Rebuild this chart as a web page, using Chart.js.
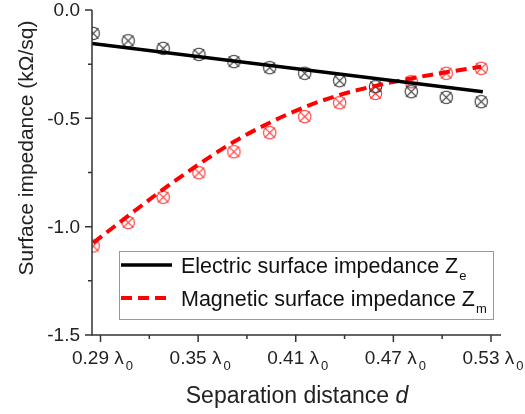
<!DOCTYPE html>
<html>
<head>
<meta charset="utf-8">
<script src="https://cdn.jsdelivr.net/npm/chart.js@4.4.1/dist/chart.umd.min.js"></script>
<style>
  html, body { margin: 0; padding: 0; background: #fff; }
</style>
</head>
<body>
<canvas id="chart" width="525" height="414"></canvas>
<script>
// separation distance d (in units of lambda0) of the measured points
const distance = [0.2855, 0.307, 0.3285, 0.3505, 0.372, 0.394, 0.4155, 0.437, 0.459, 0.481, 0.5025, 0.524]
// measured surface impedances (kOhm/sq)
const electricMeasured = [-0.108, -0.142, -0.177, -0.205, -0.238, -0.266, -0.292, -0.326, -0.354, -0.377, -0.403, -0.423]
const magneticMeasured = [-1.089, -0.981, -0.864, -0.751, -0.654, -0.566, -0.492, -0.428, -0.385, -0.331, -0.292, -0.269]
// fitted curves
const electricFitX = [0.2848, 0.525]
const electricFit = [-0.154, -0.377]
const magneticFit = [-1.075, -0.950, -0.828, -0.712, -0.608, -0.520, -0.448, -0.392, -0.350, -0.316, -0.287, -0.262]

const xMajorTicks = [0.29, 0.35, 0.41, 0.47, 0.53]
const xMinorTicks = [0.32, 0.38, 0.44, 0.50]
const xTickLabels = ['0.29', '0.35', '0.41', '0.47', '0.53']
const yMajorTicks = [0, -0.5, -1.0, -1.5]
const yMinorTicks = [-0.25, -0.75, -1.25]
const yTickLabels = ['0.0', '-0.5', '-1.0', '-1.5']

const legendLabels = ['Electric surface impedance Z', 'Magnetic surface impedance Z']
const legendSubs = ['e', 'm']

const FONT = '"Liberation Sans", Arial, sans-serif'

// circle with a cross inside, like the original markers
function makeMarker(color) {
  const c = document.createElement('canvas')
  c.width = 17
  c.height = 17
  const g = c.getContext('2d')
  g.strokeStyle = color
  g.lineWidth = 1.1
  g.beginPath()
  g.arc(8.5, 8.5, 6.2, 0, Math.PI * 2)
  g.stroke()
  const d = 5.2
  g.beginPath()
  g.moveTo(8.5 - d, 8.5 - d)
  g.lineTo(8.5 + d, 8.5 + d)
  g.moveTo(8.5 + d, 8.5 - d)
  g.lineTo(8.5 - d, 8.5 + d)
  g.stroke()
  return c
}

const axesPlugin = {
  id: 'axesPlugin',
  afterDraw(chart) {
    const ctx = chart.ctx
    const area = chart.chartArea
    const xs = chart.scales.x
    const ys = chart.scales.y
    ctx.save()
    ctx.strokeStyle = '#333'
    ctx.fillStyle = '#222'
    ctx.lineWidth = 1.5

    // axis lines
    ctx.beginPath()
    ctx.moveTo(area.left, area.top)
    ctx.lineTo(area.left, area.bottom)
    ctx.lineTo(area.right, area.bottom)
    ctx.stroke()

    // ticks
    ctx.beginPath()
    yMajorTicks.forEach(v => {
      const y = ys.getPixelForValue(v)
      ctx.moveTo(area.left, y)
      ctx.lineTo(area.left - 7, y)
    })
    yMinorTicks.forEach(v => {
      const y = ys.getPixelForValue(v)
      ctx.moveTo(area.left, y)
      ctx.lineTo(area.left - 4, y)
    })
    xMajorTicks.forEach(v => {
      const x = xs.getPixelForValue(v)
      ctx.moveTo(x, area.bottom)
      ctx.lineTo(x, area.bottom + 7)
    })
    xMinorTicks.forEach(v => {
      const x = xs.getPixelForValue(v)
      ctx.moveTo(x, area.bottom)
      ctx.lineTo(x, area.bottom + 4)
    })
    ctx.stroke()

    // y tick labels
    ctx.font = '19px ' + FONT
    ctx.textAlign = 'right'
    ctx.textBaseline = 'middle'
    yMajorTicks.forEach((v, i) => {
      ctx.fillText(yTickLabels[i], area.left - 12, ys.getPixelForValue(v) + 1)
    })

    // x tick labels with lambda_0
    ctx.textAlign = 'left'
    ctx.textBaseline = 'alphabetic'
    xMajorTicks.forEach((v, i) => {
      const x = xs.getPixelForValue(v)
      ctx.font = '19px ' + FONT
      const main = xTickLabels[i] + ' \u03bb'
      const w1 = ctx.measureText(main).width
      ctx.font = '13px ' + FONT
      const w2 = ctx.measureText('0').width
      let x0 = x + 2 - (w1 + w2 + 2) / 2
      ctx.font = '19px ' + FONT
      ctx.fillText(main, x0, 364)
      ctx.font = '13px ' + FONT
      ctx.fillText('0', x0 + w1 + 2, 370)
    })

    // axis titles
    ctx.font = '23px ' + FONT
    const t1 = 'Separation distance '
    const tw = ctx.measureText(t1).width
    ctx.font = 'italic 23px ' + FONT
    const dw = ctx.measureText('d').width
    const tx = 297 - (tw + dw) / 2
    ctx.font = '23px ' + FONT
    ctx.fillText(t1, tx, 403)
    ctx.font = 'italic 23px ' + FONT
    ctx.fillText('d', tx + tw, 403)

    ctx.save()
    ctx.translate(33, 148)
    ctx.rotate(-Math.PI / 2)
    ctx.font = '21px ' + FONT
    ctx.textAlign = 'center'
    ctx.fillText('Surface impedance (k\u03a9/sq)', 0, 0)
    ctx.restore()

    // legend
    ctx.lineWidth = 1
    ctx.strokeStyle = '#999'
    ctx.strokeRect(119.5, 251.5, 374, 68)
    const rows = [265, 298]
    chart.data.datasets.slice(0, 2).forEach((ds, i) => {
      ctx.save()
      ctx.strokeStyle = ds.borderColor
      ctx.lineWidth = ds.borderWidth
      ctx.setLineDash(ds.borderDash || [])
      ctx.beginPath()
      ctx.moveTo(121, rows[i])
      ctx.lineTo(172, rows[i])
      ctx.stroke()
      ctx.restore()
      ctx.fillStyle = '#111'
      ctx.textAlign = 'left'
      ctx.font = '21.5px ' + FONT
      ctx.fillText(legendLabels[i], 181, rows[i] + 8)
      const lw = ctx.measureText(legendLabels[i]).width
      ctx.font = '13px ' + FONT
      ctx.fillText(legendSubs[i], 181 + lw + 1, rows[i] + 15)
    })
    ctx.restore()
  }
}

new Chart(document.getElementById('chart'), {
  type: 'scatter',
  data: {
    datasets: [
      {
        label: 'Electric fit',
        data: electricFitX.map((x, i) => ({ x, y: electricFit[i] })),
        showLine: true,
        borderColor: '#000',
        borderWidth: 3.5,
        pointRadius: 0,
      },
      {
        label: 'Magnetic fit',
        data: distance.map((x, i) => ({ x, y: magneticFit[i] })),
        showLine: true,
        borderColor: '#ff0000',
        borderWidth: 4,
        borderDash: [11, 6],
        cubicInterpolationMode: 'monotone',
        pointRadius: 0,
      },
      {
        label: 'Electric measured',
        data: distance.map((x, i) => ({ x, y: electricMeasured[i] })),
        pointStyle: makeMarker('#333'),
      },
      {
        label: 'Magnetic measured',
        data: distance.map((x, i) => ({ x, y: magneticMeasured[i] })),
        pointStyle: makeMarker('#ff3030'),
      },
    ],
  },
  options: {
    responsive: false,
    animation: false,
    devicePixelRatio: 1,
    layout: { padding: { left: 92, right: 24, top: 10, bottom: 79 } },
    scales: {
      x: { type: 'linear', min: 0.28478, max: 0.53615, display: false },
      y: { type: 'linear', min: -1.5, max: 0, display: false },
    },
    plugins: {
      legend: { display: false },
      tooltip: { enabled: false },
    },
  },
  plugins: [axesPlugin],
})
</script>
</body>
</html>
